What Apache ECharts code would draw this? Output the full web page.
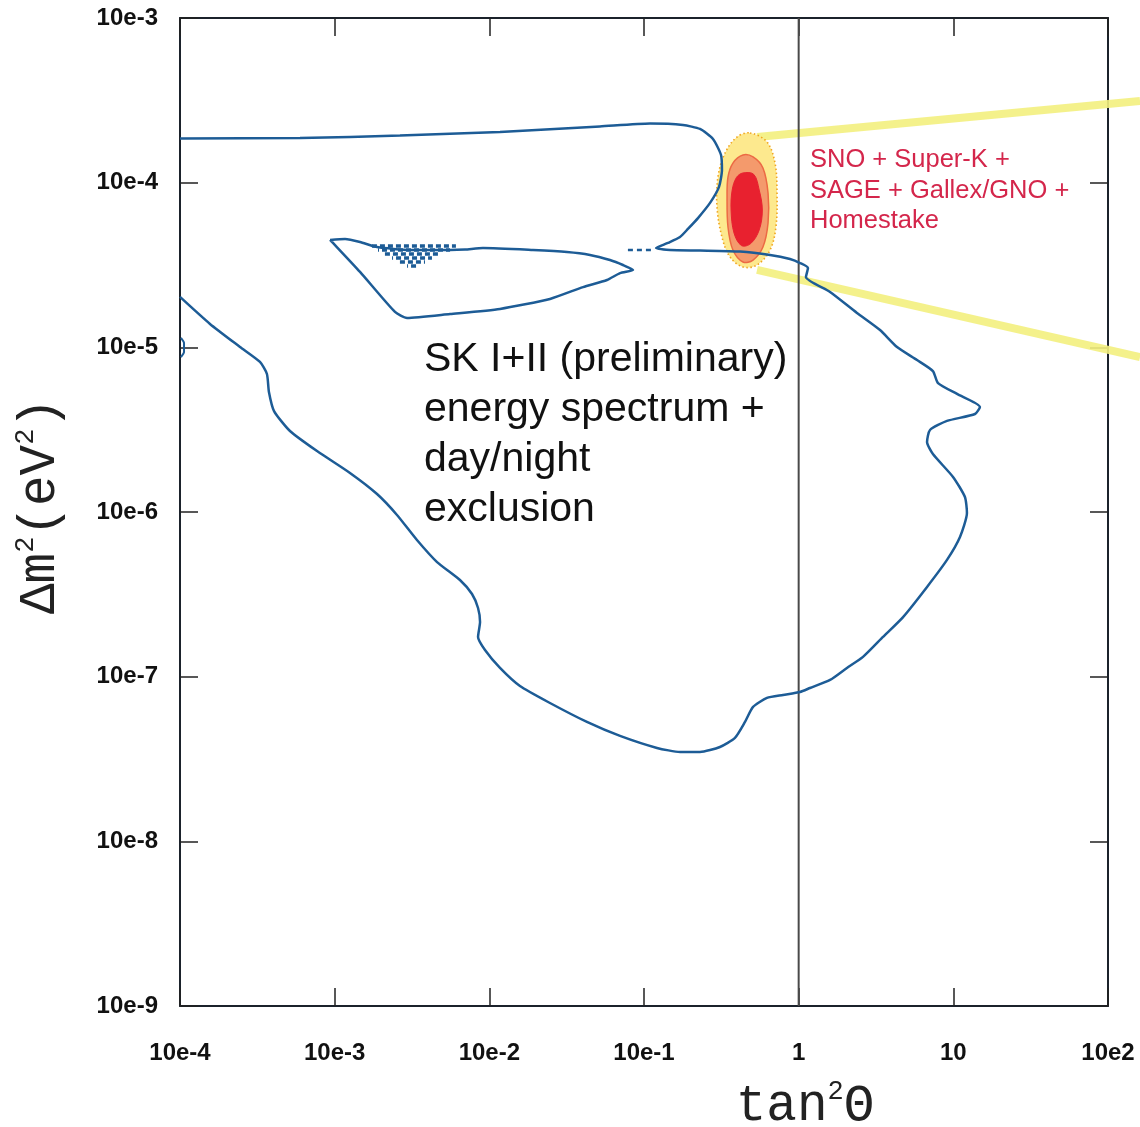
<!DOCTYPE html>
<html>
<head>
<meta charset="utf-8">
<title>SK I+II solar neutrino oscillation exclusion</title>
<script src="https://cdn.jsdelivr.net/npm/echarts@6/dist/echarts.min.js"></script>
<style>
  html, body { margin: 0; padding: 0; background: #ffffff; }
  #chart { width: 1140px; height: 1127px; }
</style>
</head>
<body>
<div id="chart"></div>
<script>
// Axis decades and their printed labels
const xTickExps = [-4, -3, -2, -1, 0, 1, 2];
const xTickLabels = ['10e-4', '10e-3', '10e-2', '10e-1', '1', '10', '10e2'];
const yTickExps = [-9, -8, -7, -6, -5, -4, -3];
const yTickLabels = ['10e-9', '10e-8', '10e-7', '10e-6', '10e-5', '10e-4', '10e-3'];

// All contour points are [log10(tan²θ), log10(Δm² / eV²)]

// SK I+II energy spectrum + day/night exclusion boundary (main contour)
const skMainContour = [
  [-4.000,-3.732],[-3.224,-3.729],[-2.578,-3.714],[-1.931,-3.692],[-1.285,-3.659],[-0.961,-3.641],
  [-0.748,-3.650],[-0.638,-3.674],[-0.554,-3.735],[-0.502,-3.832],[-0.496,-3.923],[-0.515,-4.026],
  [-0.573,-4.123],[-0.651,-4.215],[-0.716,-4.281],[-0.767,-4.330],[-0.845,-4.366],[-0.922,-4.397],
  [-0.832,-4.409],[-0.638,-4.412],[-0.379,-4.418],[-0.185,-4.439],[-0.056,-4.464],[0.009,-4.488],
  [0.060,-4.518],[0.047,-4.573],[0.203,-4.664],[0.377,-4.791],[0.526,-4.895],[0.636,-4.998],
  [0.765,-5.077],[0.868,-5.144],[0.901,-5.217],[1.024,-5.283],[1.172,-5.362],[1.140,-5.405],
  [0.959,-5.447],[0.849,-5.502],[0.830,-5.575],[0.868,-5.648],[0.998,-5.787],[1.075,-5.909],
  [1.088,-6.006],[1.043,-6.152],[0.959,-6.291],[0.830,-6.455],[0.675,-6.638],[0.545,-6.759],
  [0.416,-6.880],[0.312,-6.947],[0.203,-7.020],[0.073,-7.069],[0.009,-7.093],[-0.101,-7.111],
  [-0.205,-7.129],[-0.295,-7.184],[-0.347,-7.275],[-0.412,-7.372],[-0.509,-7.427],[-0.638,-7.457],
  [-0.767,-7.457],[-0.916,-7.433],[-1.155,-7.360],[-1.369,-7.275],[-1.608,-7.160],[-1.802,-7.057],
  [-1.931,-6.947],[-2.028,-6.838],[-2.073,-6.759],[-2.060,-6.668],[-2.073,-6.583],[-2.112,-6.498],
  [-2.190,-6.413],[-2.338,-6.304],[-2.468,-6.170],[-2.597,-6.018],[-2.726,-5.891],[-2.901,-5.763],
  [-3.114,-5.630],[-3.289,-5.508],[-3.392,-5.387],[-3.425,-5.271],[-3.438,-5.162],[-3.483,-5.089],
  [-3.612,-4.998],[-3.806,-4.858],[-4.000,-4.694]
];

// Isolated allowed island around tan²θ ~ 1e-2
const skIsland = [
  [-3.030,-4.348],[-2.933,-4.342],[-2.836,-4.360],[-2.726,-4.391],[-2.513,-4.409],[-2.254,-4.409],
  [-2.157,-4.406],[-2.041,-4.397],[-1.718,-4.409],[-1.498,-4.421],[-1.349,-4.439],[-1.220,-4.470],
  [-1.136,-4.500],[-1.071,-4.530],[-1.155,-4.549],[-1.239,-4.591],[-1.394,-4.634],[-1.608,-4.706],
  [-1.931,-4.767],[-2.254,-4.798],[-2.532,-4.822],[-2.610,-4.785],[-2.836,-4.542],[-3.011,-4.366],
  [-3.030,-4.348]
];

// Fragmented contour cells inside the island: [log10 x start, log10 x end, log10 y]
const skIslandCells = [
  [-2.759,-2.216,-4.385],[-2.720,-2.254,-4.409],[-2.675,-2.319,-4.433],
  [-2.629,-2.371,-4.457],[-2.578,-2.416,-4.482],[-2.532,-2.461,-4.506]
];

// Broken piece of the contour between the island and the main boundary
const skGapDots = [[-1.104,-4.409],[-0.948,-4.409]];

// Tiny contour fragment on the left edge
const skEdgeFragment = [[-3.994,-4.943],[-3.974,-4.974],[-3.974,-5.028],[-3.994,-5.059]];

// Global solar fit (SNO + Super-K + SAGE + Gallex/GNO + Homestake)
const globalFitOuter = [
  [-0.315,-3.698],[-0.205,-3.753],[-0.153,-3.881],[-0.140,-4.063],[-0.147,-4.269],[-0.185,-4.409],
  [-0.269,-4.500],[-0.360,-4.512],[-0.444,-4.451],[-0.496,-4.330],[-0.528,-4.148],[-0.522,-3.966],
  [-0.476,-3.820],[-0.399,-3.723]
];
const globalFitMiddle = [
  [-0.360,-3.832],[-0.295,-3.844],[-0.231,-3.911],[-0.198,-4.063],[-0.198,-4.245],[-0.231,-4.391],
  [-0.295,-4.470],[-0.360,-4.482],[-0.425,-4.409],[-0.457,-4.269],[-0.463,-4.087],[-0.457,-3.966],
  [-0.425,-3.881]
];
const globalFitInner = [
  [-0.360,-3.941],[-0.290,-3.950],[-0.255,-4.045],[-0.235,-4.166],[-0.255,-4.287],[-0.310,-4.370],
  [-0.370,-4.382],[-0.418,-4.306],[-0.437,-4.166],[-0.430,-4.045],[-0.402,-3.968]
];

// Zoom guide lines leading out from the global fit region (run past the frame)
const guideUpper = [[-0.269,-3.723],[2.207,-3.504]];
const guideLower = [[-0.269,-4.530],[2.207,-5.059]];

// Maximal mixing reference line
const unityLine = [[0,-9],[0,-3]];

const toVal = p => [Math.pow(10, p[0]), Math.pow(10, p[1])];
const expOf = v => Math.round(Math.log10(v));

const CONTOUR_BLUE = '#1d5c96';
const AXIS_DARK = '#1b222b';

function polygonSeries(name, pts, style, z) {
  return {
    name, type: 'custom', coordinateSystem: 'cartesian2d', z, silent: true, clip: false,
    data: [toVal(pts[0])],
    encode: { x: 0, y: 1 },
    renderItem(params, api) {
      return {
        type: 'polygon',
        shape: { points: pts.map(p => api.coord(toVal(p))), smooth: 0.35 },
        style
      };
    }
  };
}

function guideSeries(name, pts) {
  return {
    name, type: 'custom', coordinateSystem: 'cartesian2d', z: 1, silent: true, clip: false,
    data: [toVal(pts[0])],
    encode: { x: 0, y: 1 },
    renderItem(params, api) {
      return {
        type: 'polyline',
        shape: { points: pts.map(p => api.coord(toVal(p))) },
        style: { stroke: '#f3ef7e', lineWidth: 8, opacity: 0.9, fill: null }
      };
    }
  };
}

function contourLine(name, pts, extra) {
  return Object.assign({
    name, type: 'line', data: pts.map(toVal), showSymbol: false, symbol: 'none',
    silent: true, z: 5, smooth: 0.2,
    lineStyle: { color: CONTOUR_BLUE, width: 2.5 }
  }, extra || {});
}

const cellSeries = skIslandCells.map((c, i) => ({
  name: 'cells' + i, type: 'line', showSymbol: false, symbol: 'none', silent: true, z: 5,
  data: [toVal([c[0], c[2]]), toVal([c[1], c[2]])],
  lineStyle: { color: CONTOUR_BLUE, width: 3.5, type: [5, 3], dashOffset: (i % 2) * 4 }
}));

const axisCommon = {
  type: 'log', logBase: 10, splitLine: { show: false },
  axisLine: { show: true, lineStyle: { color: AXIS_DARK, width: 2 } },
  axisTick: { show: true, inside: true, length: 18, lineStyle: { color: '#222', width: 1.5 } },
  minorTick: { show: false }
};

const labelFont = { fontFamily: 'Liberation Sans', fontWeight: 'bold', fontSize: 24, color: '#111' };

const nameRich = {
  m: { fontFamily: 'Liberation Mono', fontSize: 51, color: '#222', lineHeight: 56 },
  s: { fontFamily: 'Liberation Mono', fontSize: 27, color: '#222', verticalAlign: 'top', lineHeight: 30 }
};

const option = {
  animation: false,
  backgroundColor: '#ffffff',
  grid: { left: 180, top: 18, width: 928, height: 988, containLabel: false, outerBoundsMode: 'none' },
  xAxis: [
    Object.assign({}, axisCommon, {
      position: 'bottom', min: Math.pow(10, xTickExps[0]), max: Math.pow(10, xTickExps[xTickExps.length - 1]),
      axisLabel: Object.assign({
        margin: 35, showMinLabel: true, showMaxLabel: true, hideOverlap: false,
        formatter: v => xTickLabels[xTickExps.indexOf(expOf(v))] || ''
      }, labelFont),
      name: '{m|tan}{s|2}{m|Θ}', nameLocation: 'middle', nameGap: 72, nameMoveOverlap: false,
      nameTextStyle: { padding: [0, 0, 0, 322], rich: nameRich }
    }),
    Object.assign({}, axisCommon, {
      position: 'top', min: Math.pow(10, xTickExps[0]), max: Math.pow(10, xTickExps[xTickExps.length - 1]),
      axisLabel: { show: false }
    })
  ],
  yAxis: [
    Object.assign({}, axisCommon, {
      position: 'left', min: Math.pow(10, yTickExps[0]), max: Math.pow(10, yTickExps[yTickExps.length - 1]),
      axisLabel: Object.assign({
        margin: 22, showMinLabel: true, showMaxLabel: true, hideOverlap: false,
        formatter: v => yTickLabels[yTickExps.indexOf(expOf(v))] || ''
      }, labelFont),
      name: '{m|Δm}{s|2}{m|(eV}{s|2}{m|)}', nameLocation: 'middle', nameGap: 112, nameMoveOverlap: false,
      nameTextStyle: { padding: [0, 0, 0, 12], rich: nameRich }
    }),
    Object.assign({}, axisCommon, {
      position: 'right', min: Math.pow(10, yTickExps[0]), max: Math.pow(10, yTickExps[yTickExps.length - 1]),
      axisLabel: { show: false }
    })
  ],
  graphic: [
    {
      type: 'text', left: 424, top: 335, z: 20, silent: true,
      style: {
        text: 'SK I+II (preliminary)\nenergy spectrum +\nday/night\nexclusion',
        fontFamily: 'Liberation Sans', fontSize: 41, lineHeight: 50, fill: '#111'
      }
    },
    {
      type: 'text', left: 810, top: 145, z: 20, silent: true,
      style: {
        text: 'SNO + Super-K +\nSAGE + Gallex/GNO +\nHomestake',
        fontFamily: 'Liberation Sans', fontSize: 25.5, lineHeight: 30.5, fill: '#d4264b'
      }
    }
  ],
  series: [
    guideSeries('guideUpper', guideUpper),
    guideSeries('guideLower', guideLower),
    polygonSeries('fitOuter', globalFitOuter,
      { fill: '#fde98e', stroke: '#f0a51f', lineWidth: 1.6, lineDash: [1.5, 2.5] }, 2),
    polygonSeries('fitMiddle', globalFitMiddle,
      { fill: '#f49a6c', stroke: '#ec6a44', lineWidth: 1.5 }, 3),
    polygonSeries('fitInner', globalFitInner,
      { fill: '#e8212f', stroke: '#e8212f', lineWidth: 1 }, 4),
    {
      name: 'unity', type: 'line', showSymbol: false, symbol: 'none', silent: true, z: 4,
      data: unityLine.map(toVal), lineStyle: { color: '#4a4a4a', width: 2 }
    },
    contourLine('skMain', skMainContour),
    contourLine('skIsland', skIsland),
    contourLine('skGap', skGapDots, { smooth: false, lineStyle: { color: CONTOUR_BLUE, width: 2.5, type: [5, 4] } }),
    contourLine('skEdge', skEdgeFragment, { lineStyle: { color: CONTOUR_BLUE, width: 2 } })
  ].concat(cellSeries)
};

const chart = echarts.init(document.getElementById('chart'), null, { renderer: 'canvas' });
chart.setOption(option);
</script>
</body>
</html>
